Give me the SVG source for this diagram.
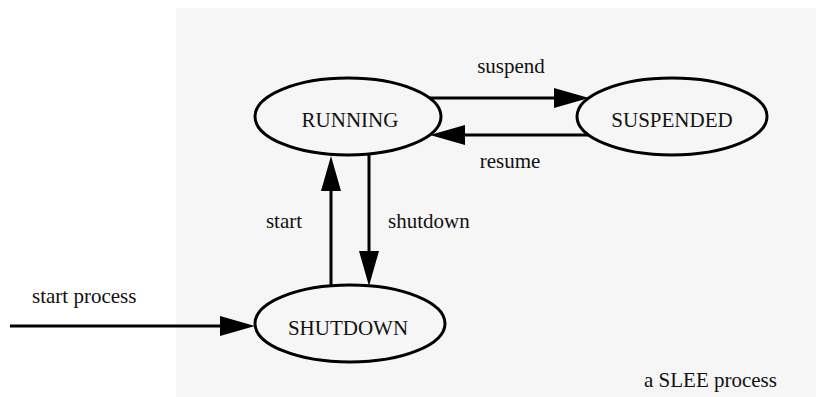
<svg xmlns="http://www.w3.org/2000/svg" width="816" height="397" viewBox="0 0 816 397">
<style>
.node{fill:none;stroke:#000;stroke-width:3}
.edge{fill:none;stroke:#000;stroke-width:3}
text{font-family:"Liberation Serif","Times New Roman",serif;font-size:21px;fill:#111}
.c{text-anchor:middle}
</style>
<defs>
<marker id="ah" viewBox="0 0 35 20" refX="0" refY="10" markerWidth="35" markerHeight="20" markerUnits="userSpaceOnUse" orient="auto">
<path d="M0,0 L35,10 L0,20 Z" fill="#000"/>
</marker>
</defs>
<rect x="0" y="0" width="816" height="397" fill="#ffffff"/>
<rect id="process" x="176" y="8" width="640" height="389" fill="#f6f6f6"/>
<g id="connectors">
<path class="edge" d="M430,98 H554" marker-end="url(#ah)"/>
<path class="edge" d="M589,135 H465" marker-end="url(#ah)"/>
<path class="edge" d="M331,286 V191" marker-end="url(#ah)"/>
<path class="edge" d="M369,154 V251" marker-end="url(#ah)"/>
<path class="edge" d="M10,326 H220" marker-end="url(#ah)"/>
<text class="c" x="511" y="73">suspend</text>
<text class="c" x="510" y="168">resume</text>
<text class="c" x="284" y="228">start</text>
<text x="388" y="228">shutdown</text>
<text x="32" y="303">start process</text>
</g>
<g id="running">
<ellipse class="node" cx="348" cy="116.5" rx="93" ry="38.5"/>
<text class="c" x="350" y="127">RUNNING</text>
</g>
<g id="suspended">
<ellipse class="node" cx="672" cy="116.5" rx="95" ry="38.5"/>
<text class="c" x="672" y="127">SUSPENDED</text>
</g>
<g id="shutdown">
<ellipse class="node" cx="350" cy="323.5" rx="95" ry="38.5"/>
<text class="c" x="348" y="335">SHUTDOWN</text>
</g>
<text x="644" y="387">a SLEE process</text>
</svg>
